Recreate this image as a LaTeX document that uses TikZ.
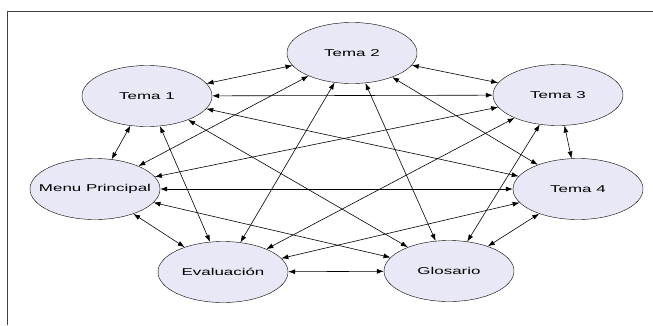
\documentclass[tikz,border=0pt]{standalone}
\usepackage{fontspec}
\newfontfamily\lblfont{Liberation Sans}[FakeStretch=1.7]
\usetikzlibrary{shapes.geometric,arrows.meta}
\definecolor{lavanda}{HTML}{E8E8F6}

\begin{document}
\begin{tikzpicture}[x=1bp,y=-1bp,
	tema/.style={draw, ellipse, fill=lavanda, minimum width=130bp, minimum height=61bp, inner sep=0pt},
	txt/.style={font=\lblfont\fontsize{10}{12}\selectfont},
	enlace/.style={<->, >={Latex[length=7pt,width=5pt]}, line width=0.6pt}]
	\useasboundingbox (0,0) rectangle (653,325);
	\draw[line width=0.8pt, black!75] (7,325) -- (7,11) -- (653,11);
	
	\node[tema, label={[txt]center:Tema 2}] (t2) at (352,53) {};
	\node[tema, label={[txt]center:Tema 1}] (t1) at (147,96) {};
	\node[tema, label={[txt]center:Tema 3}] (t3) at (558,95) {};
	\node[tema, label={[txt]center:Tema 4}] (t4) at (578,189) {};
	\node[tema, label={[txt]center:Menu Principal}] (menu) at (95,189) {};
	\node[tema, label={[txt]center:Evaluación}] (eva) at (223,272) {};
	\node[tema, label={[txt]center:Glosario}] (glo) at (449,271) {};
	
	\foreach \a/\b in {t1/t2, t1/t3, t1/t4, t1/menu, t1/eva, t1/glo,
		t2/t3, t2/t4, t2/menu, t2/eva, t2/glo,
		t3/t4, t3/menu, t3/eva, t3/glo,
		t4/menu, t4/eva, t4/glo,
		menu/eva, menu/glo, eva/glo}
		\draw[enlace] (\a) -- (\b);
\end{tikzpicture}
\end{document}
